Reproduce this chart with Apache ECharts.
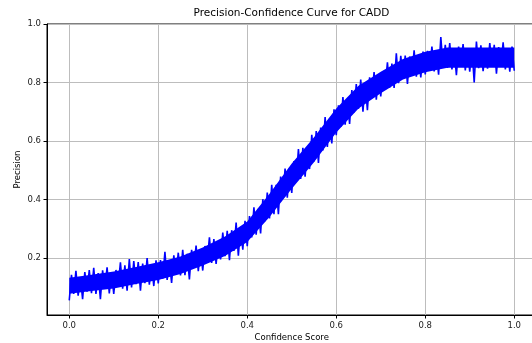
<!DOCTYPE html>
<html>
<head>
<meta charset="utf-8">
<title>Precision-Confidence Curve for CADD</title>
<script src="https://cdn.jsdelivr.net/npm/echarts@6/dist/echarts.min.js"></script>
<style>
  html, body { margin: 0; padding: 0; background: #fff; }
  #chart { width: 532px; height: 343px; }
</style>
</head>
<body>
<div id="chart"></div>
<script>
// confidence thresholds (x) and the precision (y)
const confidence = [
  0, 0.005, 0.01, 0.015, 0.02, 0.025, 0.03, 0.035, 0.04, 0.045,
  0.05, 0.055, 0.06, 0.065, 0.07, 0.075, 0.08, 0.085, 0.09, 0.095,
  0.1, 0.105, 0.11, 0.115, 0.12, 0.125, 0.13, 0.135, 0.14, 0.145,
  0.15, 0.155, 0.16, 0.165, 0.17, 0.175, 0.18, 0.185, 0.19, 0.195,
  0.2, 0.205, 0.21, 0.215, 0.22, 0.225, 0.23, 0.235, 0.24, 0.245,
  0.25, 0.255, 0.26, 0.265, 0.27, 0.275, 0.28, 0.285, 0.29, 0.295,
  0.3, 0.305, 0.31, 0.315, 0.32, 0.325, 0.33, 0.335, 0.34, 0.345,
  0.35, 0.355, 0.36, 0.365, 0.37, 0.375, 0.38, 0.385, 0.39, 0.395,
  0.4, 0.405, 0.41, 0.415, 0.42, 0.425, 0.43, 0.435, 0.44, 0.445,
  0.45, 0.455, 0.46, 0.465, 0.47, 0.475, 0.48, 0.485, 0.49, 0.495,
  0.5, 0.505, 0.51, 0.515, 0.52, 0.525, 0.53, 0.535, 0.54, 0.545,
  0.55, 0.555, 0.56, 0.565, 0.57, 0.575, 0.58, 0.585, 0.59, 0.595,
  0.6, 0.605, 0.61, 0.615, 0.62, 0.625, 0.63, 0.635, 0.64, 0.645,
  0.65, 0.655, 0.66, 0.665, 0.67, 0.675, 0.68, 0.685, 0.69, 0.695,
  0.7, 0.705, 0.71, 0.715, 0.72, 0.725, 0.73, 0.735, 0.74, 0.745,
  0.75, 0.755, 0.76, 0.765, 0.77, 0.775, 0.78, 0.785, 0.79, 0.795,
  0.8, 0.805, 0.81, 0.815, 0.82, 0.825, 0.83, 0.835, 0.84, 0.845,
  0.85, 0.855, 0.86, 0.865, 0.87, 0.875, 0.88, 0.885, 0.89, 0.895,
  0.9, 0.905, 0.91, 0.915, 0.92, 0.925, 0.93, 0.935, 0.94, 0.945,
  0.95, 0.955, 0.96, 0.965, 0.97, 0.975, 0.98, 0.985, 0.99, 0.995,
  1
];

const precision = [
  0.055, 0.142, 0.077, 0.156, 0.071, 0.135, 0.059, 0.152, 0.085, 0.159,
  0.080, 0.166, 0.077, 0.148, 0.059, 0.158, 0.095, 0.168, 0.079, 0.152,
  0.077, 0.159, 0.104, 0.185, 0.095, 0.175, 0.088, 0.196, 0.099, 0.189,
  0.110, 0.186, 0.088, 0.181, 0.114, 0.200, 0.109, 0.177, 0.104, 0.192,
  0.113, 0.193, 0.129, 0.221, 0.125, 0.190, 0.115, 0.209, 0.143, 0.218,
  0.140, 0.228, 0.141, 0.214, 0.127, 0.228, 0.167, 0.242, 0.155, 0.230,
  0.157, 0.241, 0.188, 0.271, 0.183, 0.265, 0.180, 0.252, 0.195, 0.287,
  0.206, 0.293, 0.192, 0.295, 0.224, 0.321, 0.208, 0.305, 0.228, 0.327,
  0.240, 0.343, 0.270, 0.373, 0.280, 0.368, 0.284, 0.401, 0.326, 0.424,
  0.335, 0.450, 0.350, 0.450, 0.350, 0.478, 0.404, 0.506, 0.406, 0.508,
  0.422, 0.531, 0.464, 0.572, 0.470, 0.577, 0.478, 0.575, 0.504, 0.621,
  0.530, 0.634, 0.525, 0.646, 0.568, 0.682, 0.580, 0.676, 0.592, 0.708,
  0.620, 0.722, 0.648, 0.750, 0.656, 0.743, 0.658, 0.774, 0.698, 0.795,
  0.710, 0.810, 0.700, 0.800, 0.705, 0.818, 0.749, 0.836, 0.741, 0.828,
  0.752, 0.837, 0.785, 0.869, 0.782, 0.865, 0.781, 0.900, 0.798, 0.891,
  0.815, 0.892, 0.795, 0.889, 0.823, 0.910, 0.820, 0.889, 0.817, 0.906,
  0.828, 0.908, 0.843, 0.923, 0.838, 0.903, 0.827, 0.955, 0.854, 0.929,
  0.850, 0.935, 0.845, 0.915, 0.825, 0.923, 0.859, 0.931, 0.841, 0.913,
  0.837, 0.917, 0.800, 0.940, 0.849, 0.927, 0.839, 0.907, 0.847, 0.935,
  0.855, 0.929, 0.830, 0.921, 0.853, 0.937, 0.845, 0.911, 0.837, 0.923,
  0.840
];

// dense core of the noisy band (where the line overlaps itself), every 0.05
const bandX = [
  0, 0.05, 0.1, 0.15, 0.2, 0.25, 0.3, 0.35, 0.4, 0.45, 0.5,
  0.55, 0.6, 0.65, 0.7, 0.75, 0.8, 0.85, 0.9, 0.95, 1
];
const bandLow = [
  0.078, 0.087, 0.096, 0.111, 0.125, 0.145, 0.174, 0.207, 0.255, 0.340, 0.437,
  0.527, 0.629, 0.711, 0.763, 0.810, 0.835, 0.850, 0.850, 0.850, 0.850
];
const bandHigh = [
  0.132, 0.143, 0.154, 0.169, 0.185, 0.205, 0.236, 0.273, 0.325, 0.420, 0.523,
  0.613, 0.711, 0.789, 0.837, 0.880, 0.905, 0.920, 0.920, 0.920, 0.920
];

const xTicks = [0, 0.2, 0.4, 0.6, 0.8, 1.0];
const yTicks = [0.2, 0.4, 0.6, 0.8, 1.0];

const font = "DejaVu Sans";
const gridLine = { show: true, lineStyle: { color: "#bdbdbd", width: 1 } };

const chart = echarts.init(document.getElementById("chart"), null, { renderer: "canvas" });

// band polygon: upper edge left to right, lower edge right to left
const renderBand = (params, api) => {
  const upper = bandX.map((x, i) => api.coord([x, bandHigh[i]]));
  const lower = bandX.map((x, i) => api.coord([x, bandLow[i]])).reverse();
  return {
    type: "polygon",
    shape: { points: upper.concat(lower) },
    style: { fill: "#0000ff" }
  };
};

chart.setOption({
  animation: false,
  backgroundColor: "#fff",
  title: {
    text: "Precision-Confidence Curve for CADD",
    left: 291.5,
    top: 8,
    padding: 0,
    textAlign: "center",
    textStyle: { fontFamily: font, fontSize: 10.5, fontWeight: "normal", color: "#000" }
  },
  grid: {
    left: 47,
    top: 24,
    width: 489.5,
    height: 291,
    show: true,
    borderColor: "#000",
    borderWidth: 1,
    outerBoundsMode: "none",
    containLabel: false
  },
  xAxis: {
    type: "value",
    min: -0.05,
    max: 1.05,
    name: "Confidence Score",
    nameLocation: "middle",
    nameGap: 18,
    nameMoveOverlap: false,
    nameTextStyle: { fontFamily: font, fontSize: 8.5, color: "#000" },
    axisLine: { show: true, onZero: false, lineStyle: { color: "#000", width: 1 } },
    axisTick: { show: true, length: 3.5, customValues: xTicks, lineStyle: { color: "#000" } },
    axisLabel: {
      customValues: xTicks,
      margin: 6,
      fontFamily: font,
      fontSize: 8.5,
      color: "#222",
      formatter: (v) => v.toFixed(1)
    },
    splitLine: gridLine
  },
  yAxis: {
    type: "value",
    min: 0.005,
    max: 1.0,
    name: "Precision",
    nameLocation: "middle",
    nameGap: 25,
    nameMoveOverlap: false,
    nameTextStyle: { fontFamily: font, fontSize: 8.5, color: "#000" },
    axisLine: { show: true, onZero: false, lineStyle: { color: "#000", width: 1 } },
    axisTick: { show: true, length: 3.5, customValues: yTicks, lineStyle: { color: "#000" } },
    axisLabel: {
      customValues: yTicks,
      margin: 6,
      fontFamily: font,
      fontSize: 8.5,
      color: "#222",
      formatter: (v) => v.toFixed(1)
    },
    splitLine: gridLine
  },
  series: [
    {
      type: "custom",
      renderItem: renderBand,
      data: [0],
      silent: true,
      z: 2
    },
    {
      type: "line",
      data: confidence.map((c, i) => [c, precision[i]]),
      showSymbol: false,
      symbol: "none",
      lineStyle: { color: "#0000ff", width: 1.6 },
      z: 3
    }
  ]
});

window.addEventListener("resize", () => chart.resize());
</script>
</body>
</html>
